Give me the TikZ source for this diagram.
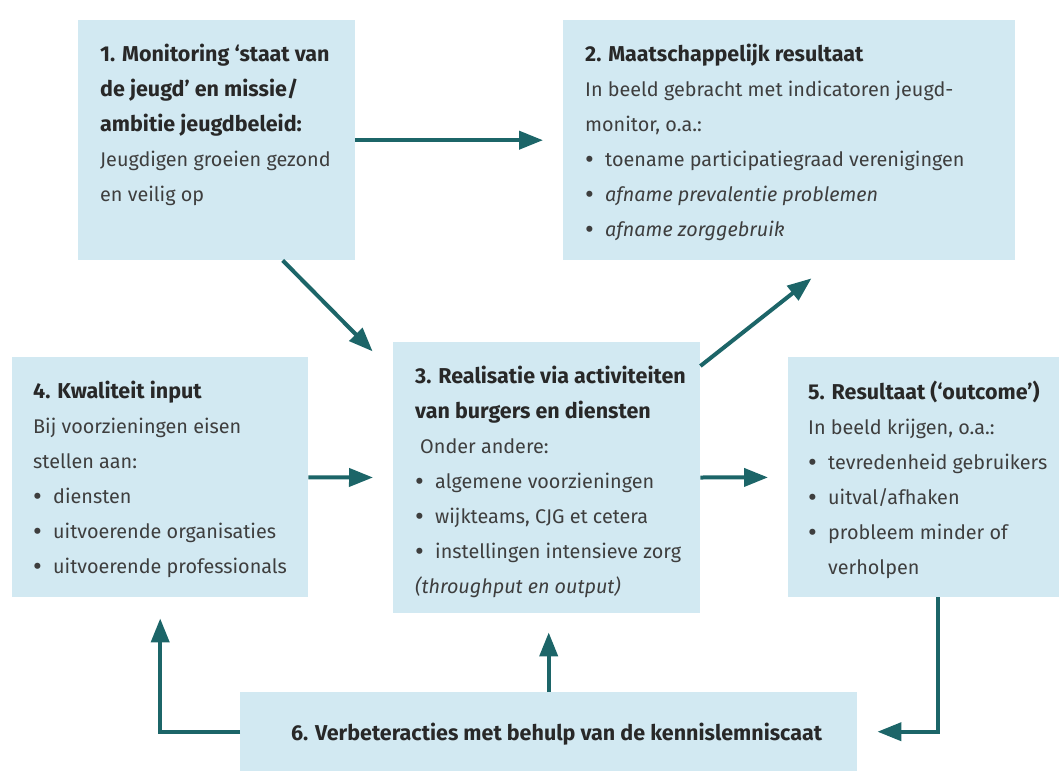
\documentclass[tikz,border=0pt]{standalone}
\usepackage{fontspec}
\setmainfont{Fira Sans}
\usetikzlibrary{graphs}
\usetikzlibrary{arrows.meta}
\definecolor{blokblauw}{RGB}{210,233,242}
\definecolor{pijlgroen}{RGB}{28,101,104}
\definecolor{tekstgrijs}{RGB}{62,62,62}
\definecolor{kopgrijs}{RGB}{40,40,40}
\tikzset{
  blok/.style= {fill=blokblauw, inner sep=0, anchor=north west},
  tekst/.style= {anchor=north west, inner sep=0, align=left, text=tekstgrijs,
    font=\fontsize{19.8}{35}\selectfont},
  pijl/.style= {draw=pijlgroen, line width=4},
}
\newcommand{\kop}[1]{{\fontsize{21.5}{35}\selectfont\textcolor{kopgrijs}{\textbf{#1}}}}
\newcommand{\punt}{\makebox[20pt][l]{\raisebox{-1.5pt}{\fontsize{27}{35}\selectfont•}}}

\begin{document}
\begin{tikzpicture}[x=1pt, y=-1pt, >={Triangle[length=24pt,width=18pt]}]
  \useasboundingbox (0,0) rectangle (1059,771);
  % blokken
  \node [blok, minimum width=277, minimum height=240] (b1) at (78,20) {};
  \node [blok, minimum width=452, minimum height=240] (b2) at (563,20) {};
  \node [blok, minimum width=307, minimum height=271] (b3) at (393,342) {};
  \node [blok, minimum width=296, minimum height=240] (b4) at (12,357) {};
  \node [blok, minimum width=271, minimum height=240] (b5) at (788,357) {};
  \node [blok, minimum width=617, minimum height=79] (b6) at (240,692) {};

  % teksten
  \node [tekst] (t1) at ([shift={(22,24)}]b1.north west)
    {\kop{1. Monitoring ‘staat van}\\ \kop{de jeugd’ en missie/}\\
     \kop{ambitie jeugdbeleid:}\\ Jeugdigen groeien gezond\\ en veilig op};
  \node [tekst] (t2) at ([shift={(22,24)}]b2.north west)
    {\kop{2. Maatschappelijk resultaat}\\
     In beeld gebracht met indicatoren jeugd-\\ monitor, o.a.:\\
     \punt toename participatiegraad verenigingen\\
     \punt \textit{afname prevalentie problemen}\\
     \punt \textit{afname zorggebruik}};
  \node [tekst] (t3) at ([shift={(22,24)}]b3.north west)
    {\kop{3. Realisatie via activiteiten}\\ \kop{van burgers en diensten}\\
     \hspace*{5pt}Onder andere:\\
     \punt algemene voorzieningen\\
     \punt wijkteams, CJG et cetera\\
     \punt instellingen intensieve zorg\\
     \textit{(throughput en output)}};
  \node [tekst] (t4) at ([shift={(21,24)}]b4.north west)
    {\kop{4. Kwaliteit input}\\ Bij voorzieningen eisen\\ stellen aan:\\
     \punt diensten\\
     \punt uitvoerende organisaties\\
     \punt uitvoerende professionals};
  \node [tekst] (t5) at ([shift={(20,24)}]b5.north west)
    {\kop{5. Resultaat (‘outcome’)}\\ In beeld krijgen, o.a.:\\
     \punt tevredenheid gebruikers\\
     \punt uitval/afhaken\\
     \punt probleem minder of\\ \hspace*{20pt}verholpen};
  \node [tekst, anchor=center] (t6) at ([shift={(8,2)}]b6.center)
    {\kop{6. Verbeteracties met behulp van de kennislemniscaat}};

  % pijlen
  \graph [edges={pijl, shorten >=20}] {
    (b1) -> (b2) ;
    (b4) -> (b3) -> (b5) ;
  } ;
  \draw [pijl, ->, shorten >=29] ([xshift=66pt]b1.south) -- ([yshift=-30pt]b3.north west);
  \draw [pijl, ->, shorten >=29] ([yshift=-24pt]b3.north east) -- ([xshift=45pt]b2.south);
  \draw [pijl, ->, shorten >=20] ([xshift=14pt]b5.south) |- (b6.east);
  \draw [pijl, ->, shorten >=21] (b6.west) -| (b4.south);
  \draw [pijl, ->, shorten >=19] (b6.north) -- (b6.north |- b3.south);
\end{tikzpicture}
\end{document}
